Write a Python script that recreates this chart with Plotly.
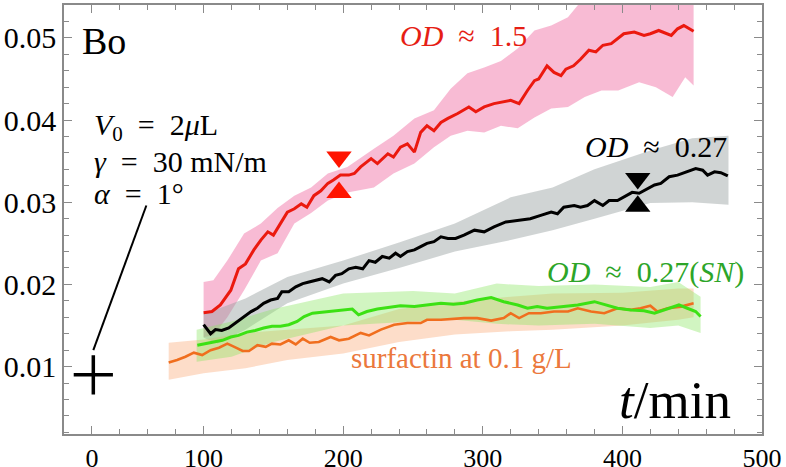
import plotly.graph_objects as go

# ---------------- data ----------------
red_x = [100,106,112,119.5,125,130,136,141,146,150,155,160,165,170,174,179,184,189,193,198,204,208,212.5,220,224.5,232,236,241,246,251,255.5,260,265,270,275,282,290,295,301,308,320,326,332,337,340,346,351,356,359.5,365,370,376,381,386,392,396.5,401,408.5,415.5,420,426,435,439.5,444,451]
red_y = [0.01655,0.0167,0.0175,0.0193,0.0219,0.0225,0.0242,0.0254,0.0264,0.0260,0.0274,0.0288,0.0292,0.0298,0.0294,0.0308,0.0314,0.0323,0.0327,0.0333,0.0333,0.0335,0.0343,0.0353,0.0347,0.0359,0.0355,0.0367,0.0371,0.0361,0.0385,0.0393,0.0387,0.0397,0.0402,0.0408,0.0416,0.0410,0.0416,0.0420,0.0424,0.0420,0.0436,0.0448,0.0450,0.0466,0.0458,0.0454,0.0462,0.0466,0.0474,0.0485,0.0483,0.0491,0.0493,0.0499,0.0505,0.0507,0.0503,0.0505,0.0509,0.0503,0.0511,0.0515,0.0508]
red_band_x = [100,107,117,129,141,153,165,177,189,203,222,236,251,265,277,289,301,313,325,337,349,361,373,385,397,412,424,436,445,451]
red_band_hi = [0.0203,0.0205,0.0229,0.0262,0.0274,0.0293,0.0308,0.0318,0.0335,0.0343,0.0365,0.0381,0.0402,0.0412,0.0438,0.0457,0.0464,0.0472,0.0487,0.0509,0.0515,0.0525,0.0550,0.0580,0.0580,0.0580,0.0580,0.0580,0.0580,0.0580]
red_band_lo = [0.0136,0.0138,0.0160,0.0193,0.0229,0.0238,0.0274,0.0287,0.0302,0.0312,0.0318,0.0335,0.0347,0.0367,0.0381,0.0387,0.0385,0.0393,0.0390,0.0403,0.0414,0.0416,0.0428,0.0436,0.0436,0.0446,0.0440,0.0428,0.0452,0.0442]

blk_x = [100,105,108.5,113,118,123,128,134,138.5,143,148,153,156,161,166,171,175.5,180,185,190,194.5,199,204,209,214,218.5,223,228,233,237.5,241,246,251,255.5,260,265,270,275,280.5,286.5,294,301,308,316.5,325,334,341.5,349,353.5,358,365.5,370,375,380,386,390.5,396.5,402.5,407,412,418,423,427.5,433.5,439.5,445.5,452.5,457.5,461,466,470.5,475.5]
blk_y = [0.0151,0.0140,0.0145,0.0144,0.0147,0.0153,0.0159,0.0167,0.0171,0.0177,0.0181,0.0183,0.0191,0.0191,0.0197,0.0201,0.0203,0.0205,0.0207,0.0203,0.0211,0.0213,0.0219,0.0221,0.0219,0.0229,0.0227,0.0234,0.0232,0.0238,0.0234,0.0240,0.0242,0.0246,0.0250,0.0252,0.0258,0.0256,0.0256,0.0260,0.0266,0.0264,0.0270,0.0276,0.0278,0.0280,0.0284,0.0288,0.0286,0.0294,0.0296,0.0294,0.0296,0.0302,0.0296,0.0302,0.0302,0.0308,0.0312,0.0311,0.0317,0.0321,0.0323,0.0331,0.0333,0.0337,0.0341,0.0339,0.0333,0.0337,0.0336,0.0332]
blk_band_x = [100,110,130,160,200,240,280,320,350,380,420,450,476]
blk_band_hi = [0.0165,0.0170,0.0183,0.0209,0.0229,0.0251,0.0274,0.0306,0.0318,0.0340,0.0363,0.0378,0.0381]
blk_band_lo = [0.0135,0.0128,0.0145,0.0177,0.0201,0.0220,0.0240,0.0254,0.0266,0.0280,0.0299,0.0300,0.0297]

grn_x = [95.5,101.5,107.5,113.5,119.5,125,131,137,143,149,155,161,167,172,178,184,191,198,206.5,211,217,224.5,234,241,251,260,270,279,286.5,296,306,315,325,332,339,346,356,368,380,389,396.5,406,415.5,423,430,440.5,446.5,452.5,456]
grn_y = [0.0126,0.0128,0.0130,0.0132,0.0136,0.0138,0.0142,0.0144,0.0147,0.0149,0.0149,0.0151,0.0155,0.0161,0.0165,0.0166,0.0167,0.0168,0.0170,0.0163,0.0167,0.0170,0.0172,0.0174,0.0173,0.0175,0.0177,0.0176,0.0177,0.0181,0.0184,0.0179,0.0175,0.0171,0.0173,0.0171,0.0173,0.0175,0.0179,0.0175,0.0171,0.0169,0.0168,0.0165,0.0169,0.0175,0.0171,0.0167,0.0161]
grn_band_x = [95,120,150,200,250,280,310,340,380,420,440,456]
grn_band_hi = [0.0145,0.0155,0.0170,0.0189,0.0192,0.0189,0.0201,0.0198,0.0200,0.0197,0.0203,0.0185]
grn_band_lo = [0.0106,0.0112,0.0130,0.0150,0.0155,0.0157,0.0152,0.0150,0.0152,0.0147,0.0150,0.0141]

org_x = [75,81,87,93,99,105,111,117,122,128,132.5,138.5,144.5,149,155,161,166,171,176,182.5,191,197,204,212.5,218.5,227,236.5,246,255.5,260,270,279,286.5,296,306,315,320,326,333,341.5,351,361,368,377.5,387,396.5,406,413,420,425,432.5,442,451]
org_y = [0.0105,0.0108,0.0112,0.0117,0.0114,0.0120,0.0123,0.0128,0.0124,0.0119,0.0119,0.0126,0.0124,0.0128,0.0127,0.0132,0.0127,0.0134,0.0129,0.0130,0.0136,0.0132,0.0134,0.0141,0.0138,0.0145,0.0151,0.0153,0.0153,0.0157,0.0157,0.0158,0.0159,0.0159,0.0156,0.0159,0.0165,0.0159,0.0165,0.0165,0.0167,0.0167,0.0171,0.0167,0.0165,0.0171,0.0169,0.0171,0.0174,0.0167,0.0171,0.0173,0.0177]
org_band_x = [75,100,130,160,200,240,280,320,350,400,440,451]
org_band_hi = [0.0129,0.0133,0.0141,0.0145,0.0150,0.0170,0.0179,0.0185,0.0189,0.0190,0.0195,0.0195]
org_band_lo = [0.0084,0.0092,0.0098,0.0108,0.0116,0.0130,0.0139,0.0143,0.0145,0.0150,0.0157,0.0160]

x_tickvals = [20, 100, 200, 300, 400, 500]
x_ticktext = ["0", "100", "200", "300", "400", "500"]
y_tickvals = [0.01, 0.02, 0.03, 0.04, 0.05]
y_ticktext = ["0.01", "0.02", "0.03", "0.04", "0.05"]

red_tri_x, red_tri_down_y, red_tri_up_y = 197, 0.0355, 0.0312
blk_tri_x, blk_tri_down_y, blk_tri_up_y = 411, 0.0329, 0.0295
cross_x, cross_y = 21, 0.0090
pointer_x = [59, 21]
pointer_y = [0.0296, 0.0120]

FONT = "Liberation Serif"
SP = "\u2002"  # en space, for math-like spacing

fig = go.Figure()

def band(xs, lo, hi, color):
    fig.add_trace(go.Scatter(x=list(xs) + list(xs)[::-1], y=list(hi) + list(lo)[::-1],
                             fill="toself", fillcolor=color, line=dict(width=0),
                             mode="lines", hoverinfo="skip", showlegend=False))

band(red_band_x, red_band_lo, red_band_hi, "rgba(242,120,170,0.5)")
band(blk_band_x, blk_band_lo, blk_band_hi, "rgba(150,160,160,0.45)")
band(org_band_x, org_band_lo, org_band_hi, "rgba(250,170,120,0.4)")
band(grn_band_x, grn_band_lo, grn_band_hi, "rgba(140,230,100,0.4)")

def line(xs, ys, color, w=3):
    fig.add_trace(go.Scatter(x=xs, y=ys, mode="lines", line=dict(color=color, width=w),
                             showlegend=False))

line(org_x, org_y, "rgb(240,110,30)", 2.6)
line(grn_x, grn_y, "rgb(60,225,20)", 3)
line(blk_x, blk_y, "black", 3)
line(red_x, red_y, "rgb(235,25,15)", 3)

# triangles
fig.add_trace(go.Scatter(x=[red_tri_x, red_tri_x], y=[red_tri_down_y, red_tri_up_y], mode="markers",
                         marker=dict(symbol=["triangle-down", "triangle-up"], size=22,
                                     color="rgb(255,20,0)", line=dict(width=0)), showlegend=False))
fig.add_trace(go.Scatter(x=[blk_tri_x, blk_tri_x], y=[blk_tri_down_y, blk_tri_up_y], mode="markers",
                         marker=dict(symbol=["triangle-down", "triangle-up"], size=22,
                                     color="black", line=dict(width=0)), showlegend=False))
# cross
fig.add_trace(go.Scatter(x=[cross_x], y=[cross_y], mode="markers",
                         marker=dict(symbol="cross-thin", size=28, line=dict(width=3.5, color="black")),
                         showlegend=False))
# pointer line
fig.add_trace(go.Scatter(x=pointer_x, y=pointer_y, mode="lines", line=dict(color="black", width=2),
                         showlegend=False))

def ann(x, y, text, size, color="black", xanchor="center"):
    fig.add_annotation(x=x, y=y, xref="x", yref="y", text=text, showarrow=False,
                       xanchor=xanchor, yanchor="middle",
                       font=dict(family=FONT, size=size, color=color))

ann(11.5, 0.0496, "Bo", 38, xanchor="left")
ann(20, 0.0391, f"<i>V</i><sub>0</sub>{SP}={SP}2<i>μ</i>L", 30, xanchor="left")
ann(20, 0.0350, f"<i>γ</i>{SP}={SP}30 mN/m", 30, xanchor="left")
ann(20, 0.0311, f"<i>α</i>{SP}={SP}1°", 30, xanchor="left")
ann(286.4, 0.0503, f"<i>OD</i>{SP}≈{SP}1.5", 30, "rgb(230,30,20)")
ann(424, 0.0368, f"<i>OD</i>{SP}≈{SP}0.27", 30, "black")
ann(416.5, 0.0215, f"<i>OD</i>{SP}≈{SP}0.27(<i>SN</i>)", 30, "rgb(45,165,40)")
ann(284.5, 0.0110, "surfactin at 0.1 g/L", 29, "rgb(235,120,60)")
ann(438, 0.0059, "<i>t</i>/min", 53, "black")

axis_common = dict(showline=True, linecolor="#8a8a8a", linewidth=1.5, mirror="ticks",
                   ticks="inside", ticklen=8, tickcolor="#8a8a8a", tickwidth=1.2,
                   showgrid=False, zeroline=False, automargin=False)

fig.update_xaxes(range=[0, 500], tickmode="array", tickvals=x_tickvals, ticktext=x_ticktext,
                 tickfont=dict(family=FONT, size=26, color="black"),
                 minor=dict(ticks="inside", ticklen=5, tick0=0, dtick=20, tickcolor="#8a8a8a",
                            showgrid=False),
                 **axis_common)
fig.update_yaxes(range=[0.0018, 0.054], tickmode="array", tickvals=y_tickvals, ticktext=y_ticktext,
                 tickfont=dict(family=FONT, size=30, color="black"),
                 minor=dict(ticks="inside", ticklen=5, tick0=0, dtick=0.002, tickcolor="#8a8a8a",
                            showgrid=False),
                 **axis_common)

fig.update_layout(width=786, height=467, margin=dict(l=64, r=24, t=5, b=33),
                  plot_bgcolor="white", paper_bgcolor="white", showlegend=False)

fig.write_html("out.html", config={"displayModeBar": False},
               post_script="document.body.style.margin='0';document.body.style.overflow='hidden';")
